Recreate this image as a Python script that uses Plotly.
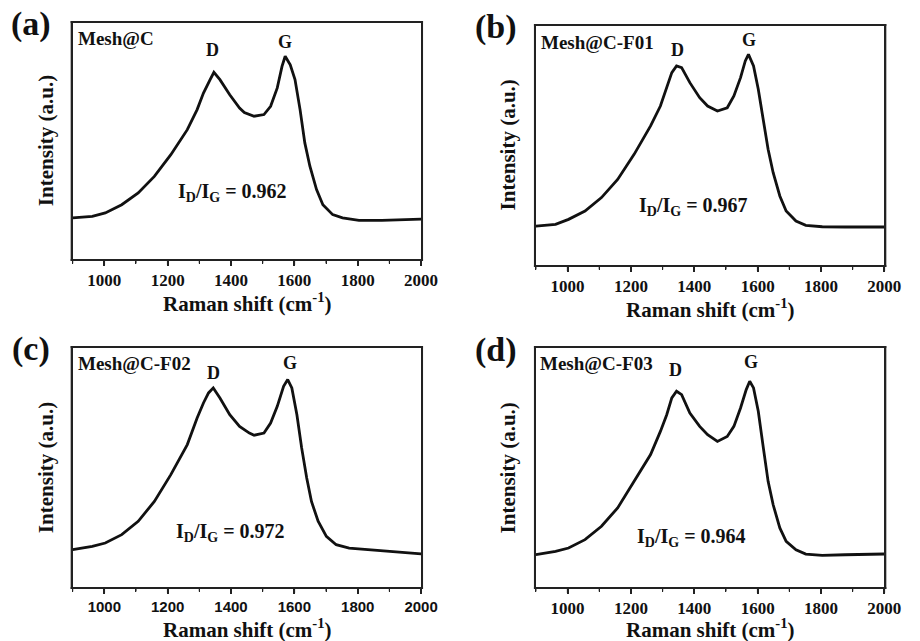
import plotly.graph_objects as go

# ---- data (intensity in arbitrary units, 0-100 of panel height) ----
x_a = [900, 962, 1003, 1055, 1107, 1158, 1210, 1262, 1293, 1313, 1334, 1346, 1365, 1396, 1427,
       1442, 1473, 1504, 1525, 1546, 1561, 1571, 1587, 1602, 1618, 1633, 1649, 1670, 1690, 1721,
       1752, 1804, 1876, 1938, 2000]
y_a = [17.4, 18.1, 19.5, 23.0, 28.0, 35.0, 44.2, 54.8, 63.3, 70.3, 76.0, 79.1, 76.0, 69.6, 64.0,
       62.1, 60.5, 61.2, 64.7, 72.5, 81.6, 85.9, 82.3, 76.0, 63.3, 49.2, 39.3, 29.4, 23.0, 18.8,
       17.4, 16.4, 16.4, 16.7, 16.9]

x_b = [900, 962, 1003, 1055, 1107, 1158, 1210, 1262, 1293, 1313, 1329, 1344, 1360, 1386, 1417,
       1442, 1473, 1504, 1525, 1546, 1561, 1571, 1587, 1602, 1618, 1633, 1649, 1670, 1690, 1721,
       1752, 1804, 1876, 1938, 2000]
y_b = [16.3, 17.0, 19.1, 22.6, 28.2, 35.8, 46.3, 58.2, 66.5, 74.2, 80.5, 83.3, 82.6, 76.3, 70.0,
       66.5, 64.4, 65.8, 70.7, 78.4, 85.4, 88.1, 83.3, 73.5, 60.9, 48.4, 38.6, 28.9, 22.6, 18.4,
       16.6, 16.0, 15.9, 15.8, 15.9]

x_c = [900, 962, 1003, 1055, 1107, 1158, 1210, 1262, 1293, 1313, 1329, 1344, 1365, 1396, 1427,
       1458, 1473, 1504, 1525, 1546, 1566, 1579, 1592, 1608, 1623, 1639, 1654, 1675, 1701, 1732,
       1773, 1835, 1897, 1959, 2000]
y_c = [15.6, 17.0, 18.4, 21.9, 27.5, 35.8, 47.0, 59.6, 70.7, 77.0, 81.2, 83.3, 79.1, 72.1, 67.2,
       64.4, 63.5, 64.4, 68.6, 75.6, 84.0, 86.8, 83.3, 72.1, 58.2, 45.6, 35.8, 27.5, 21.2, 17.7,
       16.3, 15.6, 14.9, 14.2, 13.9]

x_d = [900, 962, 1003, 1055, 1107, 1158, 1210, 1262, 1293, 1313, 1329, 1344, 1360, 1386, 1417,
       1442, 1473, 1504, 1525, 1546, 1564, 1575, 1587, 1602, 1618, 1633, 1649, 1670, 1690, 1721,
       1752, 1804, 1876, 1938, 2000]
y_d = [13.5, 14.9, 16.3, 19.8, 25.4, 33.1, 44.2, 55.4, 65.1, 72.1, 79.1, 81.9, 80.5, 72.8, 67.2,
       63.7, 60.9, 63.0, 67.2, 74.9, 82.6, 86.1, 83.3, 73.5, 58.2, 44.2, 34.4, 24.7, 19.1, 15.6,
       13.8, 13.2, 13.5, 13.8, 13.8]

panel_labels = ["(a)", "(b)", "(c)", "(d)"]
sample_names = ["Mesh@C", "Mesh@C-F01", "Mesh@C-F02", "Mesh@C-F03"]
ratios = ["0.962", "0.967", "0.972", "0.964"]
tick_vals = [1000, 1200, 1400, 1600, 1800, 2000]
tick_text = ["1000", "1200", "1400", "1600", "1800", "2000"]
minor_vals = [900, 1100, 1300, 1500, 1700, 1900]
x_range = [900, 2000]
y_range = [0, 100]

xs = [x_a, x_b, x_c, x_d]
ys = [y_a, y_b, y_c, y_d]

# ---- layout geometry ----
W, H = 920, 641
boxes = [  # left, right, top, bottom in pixels
    (74, 429, 23, 259),
    (546, 901, 26, 265),
    (74, 429, 348, 587),
    (546, 901, 348, 587),
]
d_pos = [(1343, 88.6), (1346, 90.0), (1346, 89.5), (1340, 90.8)]
g_pos = [(1569, 91.9), (1572, 94.1), (1585, 93.7), (1579, 94.1)]
ratio_pos = [(1405, 28.0), (1399, 24.3), (1399, 23.0), (1390, 20.9)]
name_pos = [(911, 93.6), (911, 93.3), (911, 93.7), (907, 93.7)]
label_px = [(32, 24), (505, 27), (32, 349), (505, 350)]
xtitle_px = [(252, 303), (724, 309), (252, 628), (724, 628)]
ytitle_px = [(47, 141), (518, 145), (47, 468), (518, 468)]
tick_fonts = ["Liberation Serif", "Liberation Serif", "Liberation Sans", "Liberation Serif"]
tick_sizes = [17, 17, 15, 17]

SERIF = "Liberation Serif"
INK = "#111111"
FRAME = "#222222"
FW = 2  # frame thickness, px
fig = go.Figure()
annotations = []
shapes = []
layout = dict(
    width=W, height=H, margin=dict(l=0, r=0, t=0, b=0),
    paper_bgcolor="white", plot_bgcolor="white", showlegend=False,
)


def ann(x, y, text, size, xref="paper", yref="paper", xanchor="center", angle=0):
    return dict(x=x, y=y, xref=xref, yref=yref, text=text, showarrow=False,
                xanchor=xanchor, yanchor="middle", textangle=angle,
                font=dict(family=SERIF, size=size, color=INK))


def bar(x0, x1, y0, y1):
    """filled rectangle given in pixels (top-left origin), drawn in paper coords"""
    return dict(type="rect", xref="paper", yref="paper", layer="above",
                x0=x0 / W, x1=x1 / W, y0=1 - y1 / H, y1=1 - y0 / H,
                fillcolor=FRAME, line=dict(width=0))


for i in range(4):
    n = "" if i == 0 else str(i + 1)
    xr, yr = "x" + n, "y" + n
    l, r, t, b = boxes[i]
    fig.add_trace(go.Scatter(x=xs[i], y=ys[i], mode="lines",
                             line=dict(color=INK, width=2.8),
                             xaxis=xr, yaxis=yr, hoverinfo="skip"))
    layout["xaxis" + n] = dict(
        domain=[l / W, r / W], anchor=yr, range=x_range,
        showgrid=False, zeroline=False, showline=True, linecolor=FRAME, linewidth=FW,
        mirror=True, ticks="outside", ticklen=5, tickwidth=1.5, tickcolor=FRAME,
        tickvals=tick_vals, ticktext=["<b>" + s + "</b>" for s in tick_text],
        minor=dict(ticks="outside", ticklen=3, tickvals=minor_vals,
                   tickcolor=FRAME, tickwidth=1.2),
        tickfont=dict(family=tick_fonts[i], size=tick_sizes[i], color=INK),
    )
    layout["yaxis" + n] = dict(
        domain=[1 - b / H, 1 - t / H], anchor=xr, range=y_range,
        showgrid=False, zeroline=False, showline=True, linecolor=FRAME, linewidth=FW,
        mirror=True, ticks="", showticklabels=False,
    )
    # filled frame bars around the plot area (same place as the axis lines)
    shapes.append(bar(l - FW, r + FW, t - FW, t))      # top
    shapes.append(bar(l - FW, r + FW, b, b + FW))      # bottom
    shapes.append(bar(l - FW, l, t - FW, b + FW))      # left
    shapes.append(bar(r, r + FW, t - FW, b + FW))      # right
    # tick marks below the bottom edge, placed from the tick values
    px_per_unit = (r - l) / (x_range[1] - x_range[0])
    for v in tick_vals:
        px = l + (v - x_range[0]) * px_per_unit
        shapes.append(bar(px - 0.75, px + 0.75, b + FW, b + FW + 4))
    for v in minor_vals:
        px = l + (v - x_range[0]) * px_per_unit
        shapes.append(bar(px - 0.6, px + 0.6, b + FW, b + FW + 2.5))

    annotations.append(ann(d_pos[i][0], d_pos[i][1], "<b>D</b>", 18, xr, yr))
    annotations.append(ann(g_pos[i][0], g_pos[i][1], "<b>G</b>", 18, xr, yr))
    annotations.append(ann(name_pos[i][0], name_pos[i][1], "<b>" + sample_names[i] + "</b>", 19,
                           xr, yr, xanchor="left"))
    annotations.append(ann(ratio_pos[i][0], ratio_pos[i][1],
                           "<b>I<sub>D</sub>/I<sub>G</sub> = " + ratios[i] + "</b>", 20, xr, yr))
    annotations.append(ann(label_px[i][0] / W, 1 - label_px[i][1] / H,
                           "<b>" + panel_labels[i] + "</b>", 34))
    annotations.append(ann(xtitle_px[i][0] / W, 1 - xtitle_px[i][1] / H,
                           "<b>Raman shift (cm<sup>-1</sup>)</b>", 21))
    annotations.append(ann(ytitle_px[i][0] / W, 1 - ytitle_px[i][1] / H,
                           "<b>Intensity (a.u.)</b>", 21, angle=-90))

layout["annotations"] = annotations
layout["shapes"] = shapes
fig.update_layout(**layout)
fig.write_html("out.html", config={"displayModeBar": False},
               post_script="document.body.style.margin='0';document.body.style.overflow='hidden';")
